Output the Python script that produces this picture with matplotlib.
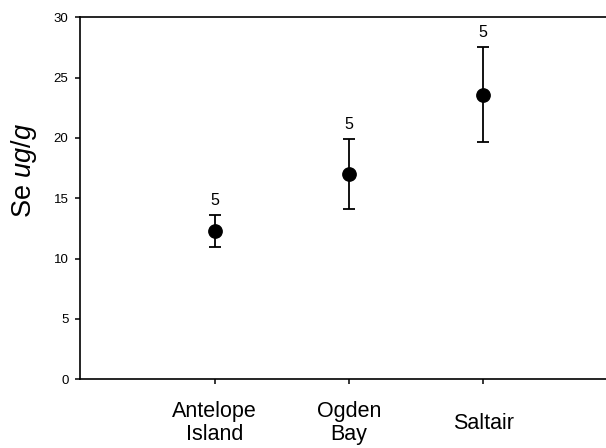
import matplotlib
matplotlib.use('Agg')
import matplotlib.pyplot as plt

plt.rcParams['font.family'] = ['Liberation Sans', 'DejaVu Sans']
plt.rcParams['mathtext.fontset'] = 'custom'
plt.rcParams['mathtext.rm'] = 'Liberation Sans'
plt.rcParams['mathtext.it'] = 'Liberation Sans:italic'

# data
sites = ['Antelope\nIsland', 'Ogden\nBay', 'Saltair']
se_mean = [12.3, 17.0, 23.6]
se_err = [1.3, 2.9, 3.9]
n_labels = ['5', '5', '5']

fig = plt.figure(figsize=(6.06, 4.48), dpi=100)
W, H = 606, 448
left, right, top, bottom = 80.4, 617.5, 17.3, 379.3
ax = fig.add_axes([left / W, 1 - bottom / H, (right - left) / W, (bottom - top) / H])

x = range(1, len(sites) + 1)
ax.errorbar(x, se_mean, yerr=se_err, fmt='o', color='black', ms=9.6,
            capsize=4.3, capthick=1.3, elinewidth=1.3)

for xi, m, e, lab in zip(x, se_mean, se_err, n_labels):
    ax.annotate(lab, (xi, m + e), xytext=(0, 5.5), textcoords='offset points',
                ha='center', va='bottom', fontsize=11.5)

ax.set_xlim(0, 4)
ax.set_ylim(0, 30)
ax.set_yticks(range(0, 31, 5))
ax.set_xticks(list(x))
ax.set_xticklabels(sites, fontsize=15.5)
for lbl in ax.get_xticklabels():
    lbl.set_va('center')
    lbl.set_linespacing(1.12)

ax.tick_params(axis='y', direction='out', length=3.6, width=1.1, labelsize=9.5, pad=5)
ax.tick_params(axis='x', direction='out', length=3.6, width=1.1, pad=28)

ax.spines['right'].set_visible(False)
for s in ['left', 'top', 'bottom']:
    ax.spines[s].set_linewidth(1.2)

fig.text(24.5 / W, 1 - 170.5 / H, r'Se $\mathit{ug/g}$', rotation=90,
         ha='center', va='center', fontsize=19.5)

fig.savefig('out.png', dpi=100)
